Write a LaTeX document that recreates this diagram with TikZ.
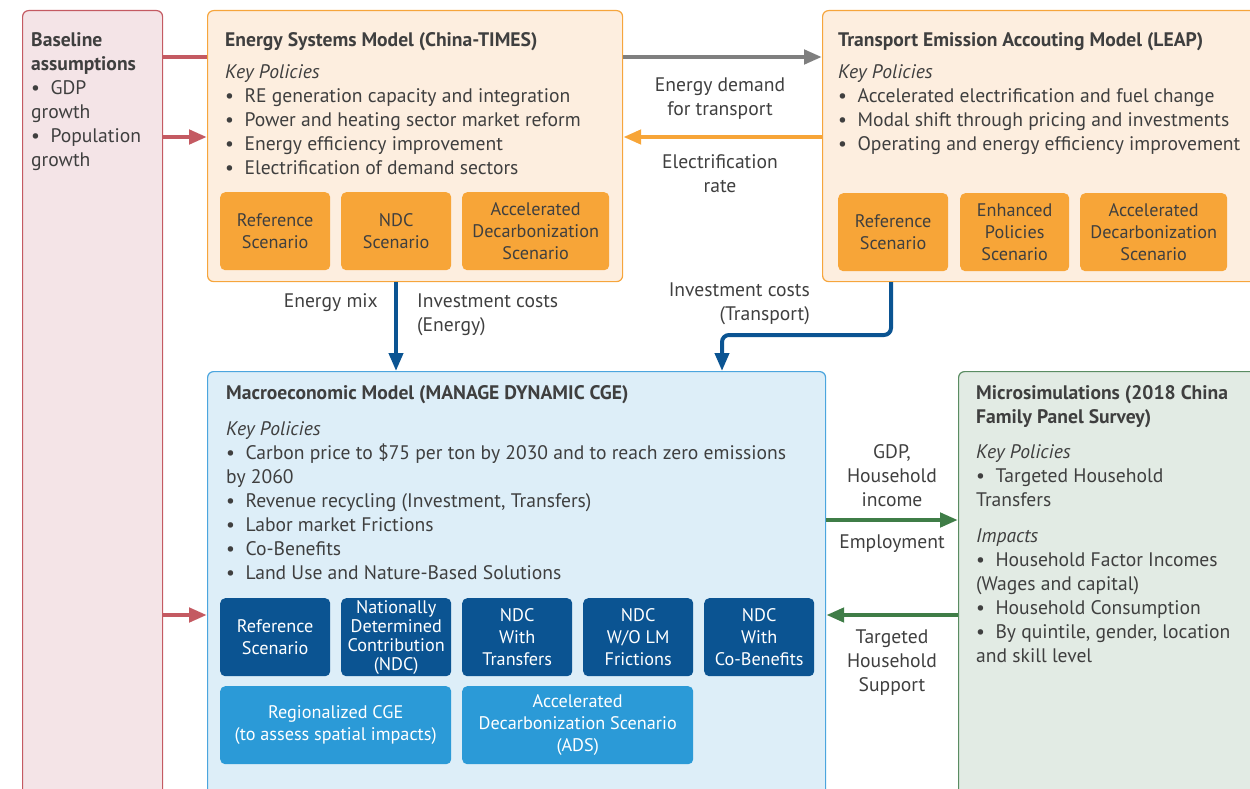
\documentclass[tikz,border=0pt]{standalone}
\usepackage{fontspec}
\setmainfont{PT Sans}
\usetikzlibrary{arrows.meta, positioning}

\definecolor{textgray}{HTML}{3F3F3F}
\definecolor{basefill}{HTML}{F4E4E7}
\definecolor{basedraw}{HTML}{C45A62}
\definecolor{energyfill}{HTML}{FDEEDF}
\definecolor{energydraw}{HTML}{F6A53C}
\definecolor{scenorange}{HTML}{F7A538}
\definecolor{macrofill}{HTML}{DDEEF8}
\definecolor{macrodraw}{HTML}{4BA5DE}
\definecolor{scendark}{HTML}{0B5492}
\definecolor{scenlight}{HTML}{2B9AD7}
\definecolor{microfill}{HTML}{E2EBE4}
\definecolor{microdraw}{HTML}{5A8C62}
\definecolor{greenarrow}{HTML}{3F7D47}
\definecolor{grayarrow}{HTML}{7F7F7F}

\begin{document}
\begin{tikzpicture}[x=1pt, y=-1pt, font=\fontsize{19.6}{24}\selectfont, text=textgray]

        % Setup the styles for the boxes and texts
        \tikzset{model box/.style={draw, rounded corners=6pt, line width=1.2pt,
                                   anchor=north west, inner sep=0pt},
                 scen box/.style={rounded corners=5pt, anchor=north west, inner sep=0pt,
                                  minimum height=78pt, align=center,
                                  font=\fontsize{18.2}{22}\selectfont},
                 body text/.style={anchor=north west, align=left, inner sep=0pt},
                 flow label/.style={align=center, inner sep=0pt},
                 flow arrow/.style={line width=4.5pt,
                                    -{Triangle[length=18pt, width=14pt]}}}

        \useasboundingbox (0,0) rectangle (1250,789);

        % Draw the model boxes
        \node[model box, fill=basefill, draw=basedraw,
              minimum width=140pt, minimum height=800pt] at (22,10) (BASE) {};
        \node[model box, fill=energyfill, draw=energydraw,
              minimum width=415pt, minimum height=271pt] at (207,10) (ESM) {};
        \node[model box, fill=energyfill, draw=energydraw,
              minimum width=440pt, minimum height=271pt] at (822,10) (LEAP) {};
        \node[model box, fill=macrofill, draw=macrodraw,
              minimum width=618pt, minimum height=430pt] at (207,371) (CGE) {};
        \node[model box, fill=microfill, draw=microdraw,
              minimum width=300pt, minimum height=430pt] at (958,371) (MICRO) {};

        % Baseline assumptions
        \node[body text] at (31,32) (BASEtxt)
            {\textbf{Baseline}\\\textbf{assumptions}\\\textbullet~ GDP\\growth\\
             \textbullet~ Population\\growth};

        % Energy systems model
        \node[body text] at (225,32) (ESMtitle) {\textbf{Energy Systems Model (China-TIMES)}};
        \node[body text] at (225,64) (ESMtxt)
            {\textit{Key Policies}\\
             \textbullet~ RE generation capacity and integration\\
             \textbullet~ Power and heating sector market reform\\
             \textbullet~ Energy efficiency improvement\\
             \textbullet~ Electrification of demand sectors};
        \node[scen box, fill=scenorange, minimum width=110pt] at (220,192) (ESMref) {Reference\\Scenario};
        \node[scen box, fill=scenorange, minimum width=110pt] at (341,192) (ESMndc) {NDC\\Scenario};
        \node[scen box, fill=scenorange, minimum width=147pt] at (462,192) (ESMads)
            {Accelerated\\Decarbonization\\Scenario};

        % Transport emission model
        \node[body text] at (838,32) (LEAPtitle) {\textbf{Transport Emission Accouting Model (LEAP)}};
        \node[body text] at (838,64) (LEAPtxt)
            {\textit{Key Policies}\\
             \textbullet~ Accelerated electrification and fuel change\\
             \textbullet~ Modal shift through pricing and investments\\
             \textbullet~ Operating and energy efficiency improvement};
        \node[scen box, fill=scenorange, minimum width=110pt] at (838,193) (LEAPref) {Reference\\Scenario};
        \node[scen box, fill=scenorange, minimum width=109pt] at (960,193) (LEAPenh)
            {Enhanced\\Policies\\Scenario};
        \node[scen box, fill=scenorange, minimum width=147pt] at (1080,193) (LEAPads)
            {Accelerated\\Decarbonization\\Scenario};

        % Macroeconomic model
        \node[body text] at (226,385) (CGEtitle) {\textbf{Macroeconomic Model (MANAGE DYNAMIC CGE)}};
        \node[body text] at (226,421) (CGEtxt)
            {\textit{Key Policies}\\
             \textbullet~ Carbon price to \$75 per ton by 2030 and to reach zero emissions\\
             by 2060\\
             \textbullet~ Revenue recycling (Investment, Transfers)\\
             \textbullet~ Labor market Frictions\\
             \textbullet~ Co-Benefits\\
             \textbullet~ Land Use and Nature-Based Solutions};
        \foreach \name/\x/\label in {CGEref/220/{Reference\\Scenario},
                                     CGEtra/462/{NDC\\With\\Transfers},
                                     CGElm/583/{NDC\\W/O LM\\Frictions},
                                     CGEcob/704/{NDC\\With\\Co-Benefits}}
            \node[scen box, fill=scendark, text=white, minimum width=110pt] at (\x,598) (\name) {\label};
        \node[scen box, fill=scendark, text=white, minimum width=110pt,
              font=\fontsize{18.2}{19}\selectfont] at (341,598) (CGEndc)
            {Nationally\\Determined\\Contribution\\(NDC)};
        \node[scen box, fill=scenlight, text=white, minimum width=231pt] at (220,686) (CGEreg)
            {Regionalized CGE\\(to assess spatial impacts)};
        \node[scen box, fill=scenlight, text=white, minimum width=231pt] at (462,686) (CGEads)
            {Accelerated\\Decarbonization Scenario\\(ADS)};

        % Microsimulations
        \node[body text] at (976,385) (MICROtitle)
            {\textbf{Microsimulations (2018 China}\\\textbf{Family Panel Survey)}};
        \node[body text] at (976,444) (MICROtxt)
            {\textit{Key Policies}\\
             \textbullet~ Targeted Household\\
             Transfers};
        \node[body text] at (976,529) (MICROimp)
            {\textit{Impacts}\\
             \textbullet~ Household Factor Incomes\\
             (Wages and capital)\\
             \textbullet~ Household Consumption\\
             \textbullet~ By quintile, gender, location\\
             and skill level};

        % Connect the boxes with arrows
        \draw[line width=4.5pt, draw=basedraw] (BASE.east |- 0,57) -- (ESM.west |- 0,57);
        \draw[flow arrow, draw=basedraw] (BASE.east |- 0,137) -- (ESM.west |- 0,137);
        \draw[flow arrow, draw=basedraw] (BASE.east |- 0,615) -- (CGE.west |- 0,615);
        \draw[flow arrow, draw=grayarrow] (ESM.east |- 0,57) -- (LEAP.west |- 0,57);
        \draw[flow arrow, draw=scenorange] (LEAP.west |- 0,137) -- (ESM.east |- 0,137);
        \draw[flow arrow, draw=scendark, line width=4pt]
            (ESM.south -| 396,0) -- (CGE.north -| 396,0);
        \draw[flow arrow, draw=scendark, line width=4pt, rounded corners=7pt]
            (LEAP.south -| 891,0) -- (891,335) -- (722,335) -- (CGE.north -| 722,0);
        \draw[flow arrow, draw=greenarrow] (CGE.east |- 0,520) -- (MICRO.west |- 0,520);
        \draw[flow arrow, draw=greenarrow] (MICRO.west |- 0,615) -- (CGE.east |- 0,615);

        % Arrow labels
        \node[flow label] at (720,99) (demandlbl) {Energy demand\\for transport};
        \node[flow label] at (720,174) (eleclbl) {Electrification\\rate};
        \node[flow label, anchor=east] at (378,303) (mixlbl) {Energy mix};
        \node[flow label, anchor=west, align=left] at (417,315) (invElbl) {Investment costs\\(Energy)};
        \node[flow label, anchor=east, align=right] at (810,304) (invTlbl) {Investment costs\\(Transport)};
        \node[flow label] at (892,476) (gdplbl) {GDP,\\Household\\income};
        \node[flow label] at (892,544) (emplbl) {Employment};
        \node[flow label] at (892,663) (suplbl) {Targeted\\Household\\Support};
    \end{tikzpicture}
\end{document}
